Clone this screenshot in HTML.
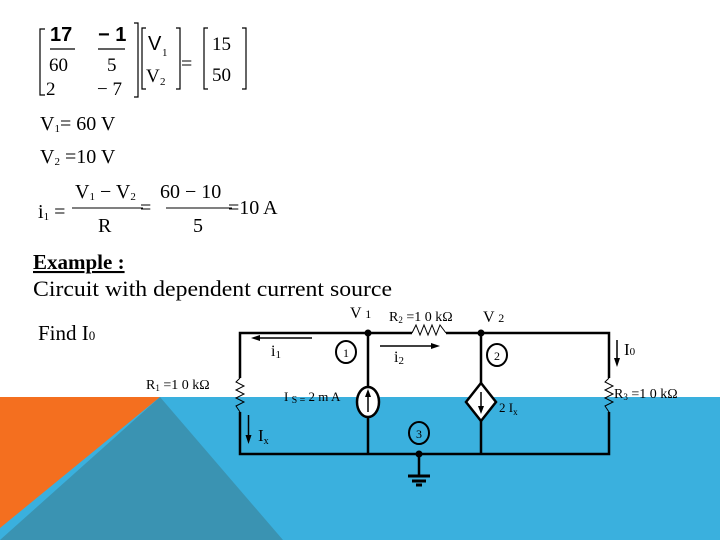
<!DOCTYPE html>
<html><head><meta charset="utf-8"><style>
html,body{margin:0;padding:0;background:#fff;}
svg{display:block;}
text{font-family:"Liberation Serif",serif;fill:#000;}
.s{font-family:"Liberation Sans",sans-serif;}
</style></head><body>
<svg width="720" height="540" viewBox="0 0 720 540" xmlns="http://www.w3.org/2000/svg">
<rect x="0" y="397" width="720" height="143" fill="#3ab0de"/>
<polygon points="0,397 160,397 0,528" fill="#f46f1f"/>
<polygon points="160,397 0,540 283,540" fill="#3a93b2"/>

<!-- matrix -->
<g stroke="#000" stroke-width="1.2" fill="none">
<path d="M45,29 H40 V95 H45"/>
<path d="M134,23 H138 V97 H134"/>
<path d="M146,28 H142 V89 H146"/>
<path d="M176,28 H180 V89 H176"/>
<path d="M208,28 H204 V89 H208"/>
<path d="M242,28 H246 V89 H242"/>
<line x1="50" y1="49" x2="75" y2="49"/>
<line x1="98" y1="49" x2="125" y2="49"/>
</g>
<text class="s" x="50" y="41" font-size="20" font-weight="bold">17</text>
<text class="s" x="98" y="41" font-size="20" font-weight="bold">− 1</text>
<text x="49" y="71" font-size="19">60</text>
<text x="107" y="71" font-size="19">5</text>
<text x="46" y="95" font-size="19">2</text>
<text x="97" y="95" font-size="19">− 7</text>
<text class="s" x="148" y="50" font-size="20">V</text>
<text x="162" y="56" font-size="11">1</text>
<text x="146" y="82" font-size="19">V</text><text x="160" y="85" font-size="11">2</text>
<text x="181" y="70" font-size="20">=</text>
<text x="212" y="50" font-size="19">15</text>
<text x="212" y="81" font-size="19">50</text>

<text x="40" y="130" font-size="20">V<tspan font-size="11" dy="2">1</tspan><tspan dy="-2">= 60 V</tspan></text>
<text x="40" y="163" font-size="20">V<tspan font-size="11" dy="2">2</tspan><tspan dy="-2"> =10 V</tspan></text>
<text x="38" y="218" font-size="20">i<tspan font-size="11" dy="2">1</tspan><tspan dy="-2"> =</tspan></text>
<text x="75" y="198" font-size="20">V<tspan font-size="11" dy="2">1</tspan><tspan dy="-2"> − V</tspan><tspan font-size="11" dy="2">2</tspan></text>
<line x1="72" y1="208" x2="143" y2="208" stroke="#000" stroke-width="1"/>
<text x="98" y="232" font-size="20">R</text>
<text x="140" y="214" font-size="20">=</text>
<text x="160" y="198" font-size="20">60 − 10</text>
<line x1="166" y1="208" x2="232" y2="208" stroke="#000" stroke-width="1"/>
<text x="193" y="232" font-size="20">5</text>
<text x="228" y="214" font-size="20">=10 A</text>

<text x="33" y="269" font-size="21" font-weight="bold" text-decoration="underline">Example :</text>
<text x="33" y="296" font-size="22" textLength="359" lengthAdjust="spacingAndGlyphs">Circuit with dependent current source</text>
<text x="38" y="340" font-size="21">Find I<tspan font-size="13">0</tspan></text>

<!-- circuit -->
<g stroke="#000" stroke-width="2.5" fill="none">
<path d="M412,333 H240 V378"/>
<path d="M446,333 H609 V378"/>
<path d="M240,412 V454 H609 V412"/>
<line x1="368" y1="333" x2="368" y2="387"/>
<line x1="368" y1="417" x2="368" y2="454"/>
<line x1="481" y1="333" x2="481" y2="383"/>
<line x1="481" y1="421" x2="481" y2="454"/>
<line x1="419" y1="454" x2="419" y2="475"/>
</g>
<g stroke="#000" stroke-width="1" fill="none">
<polyline points="240,378 236,382 244,386 236,390 244,394 236,398 244,402 236,406 240,412"/>
<polyline points="609,378 605,382 613,386 605,390 613,394 605,398 613,402 605,406 609,412"/>
<polyline points="412,333 416,325 420,335 424,325 428,335 432,325 436,335 440,325 446,333"/>
</g>
<g stroke="#000" stroke-width="3">
<line x1="408" y1="476" x2="430" y2="476"/>
<line x1="412" y1="481" x2="426" y2="481"/>
<line x1="416" y1="485" x2="422" y2="485"/>
</g>
<circle cx="368" cy="333" r="3.5" fill="#000"/>
<circle cx="481" cy="333" r="3.5" fill="#000"/>
<circle cx="419" cy="454" r="3.5" fill="#000"/>
<ellipse cx="346" cy="352" rx="10" ry="11" fill="#fff" stroke="#000" stroke-width="2"/>
<ellipse cx="497" cy="355" rx="10" ry="11" fill="#fff" stroke="#000" stroke-width="2"/>
<ellipse cx="419" cy="433" rx="10" ry="11" fill="none" stroke="#000" stroke-width="2"/>
<text x="343" y="357" font-size="12">1</text>
<text x="494" y="360" font-size="12">2</text>
<text x="416" y="438" font-size="12">3</text>
<ellipse cx="368" cy="402" rx="11" ry="15" fill="#fff" stroke="#000" stroke-width="2.5"/>
<line x1="368" y1="412" x2="368" y2="394" stroke="#000" stroke-width="1.5"/>
<polygon points="368,389 365,397 371,397" fill="#000"/>
<polygon points="481,383 496,402 481,421 466,402" fill="#fff" stroke="#000" stroke-width="2.5"/>
<line x1="481" y1="392" x2="481" y2="408" stroke="#000" stroke-width="1.5"/>
<polygon points="481,414 478,406 484,406" fill="#000"/>
<!-- arrows -->
<g stroke="#000" stroke-width="1.5">
<line x1="312" y1="338" x2="258" y2="338"/>
<line x1="380" y1="346" x2="433" y2="346"/>
<line x1="617" y1="340" x2="617" y2="360"/>
<line x1="248.5" y1="415" x2="248.5" y2="437"/>
</g>
<polygon points="251,338 260,335 260,341" fill="#000"/>
<polygon points="440,346 431,343 431,349" fill="#000"/>
<polygon points="617,367 614,358 620,358" fill="#000"/>
<polygon points="248.5,444 245.5,435 251.5,435" fill="#000"/>
<text x="271" y="356" font-size="16">i<tspan font-size="11" dy="2">1</tspan></text>
<text x="394" y="362" font-size="16">i<tspan font-size="11" dy="2">2</tspan></text>
<text x="624" y="355" font-size="17">I<tspan font-size="11">0</tspan></text>
<text x="258" y="441" font-size="17">I<tspan font-size="10" dy="3">x</tspan></text>
<text x="350" y="318" font-size="16">V <tspan font-size="12">1</tspan></text>
<text x="389" y="321" font-size="14">R<tspan font-size="9" dy="2">2</tspan><tspan dy="-2"> =1 0 kΩ</tspan></text>
<text x="483" y="322" font-size="16">V <tspan font-size="12">2</tspan></text>
<text x="146" y="389" font-size="14">R<tspan font-size="9" dy="2">1</tspan><tspan dy="-2"> =1 0 kΩ</tspan></text>
<text x="614" y="398" font-size="14">R<tspan font-size="9" dy="2">3</tspan><tspan dy="-2"> =1 0 kΩ</tspan></text>
<text x="284" y="401" font-size="13">I <tspan font-size="10" dy="2">S =</tspan><tspan dy="-2"> 2  m A</tspan></text>
<text x="499" y="412" font-size="13">2  I<tspan font-size="9" dy="3">x</tspan></text>
</svg>
</body></html>
